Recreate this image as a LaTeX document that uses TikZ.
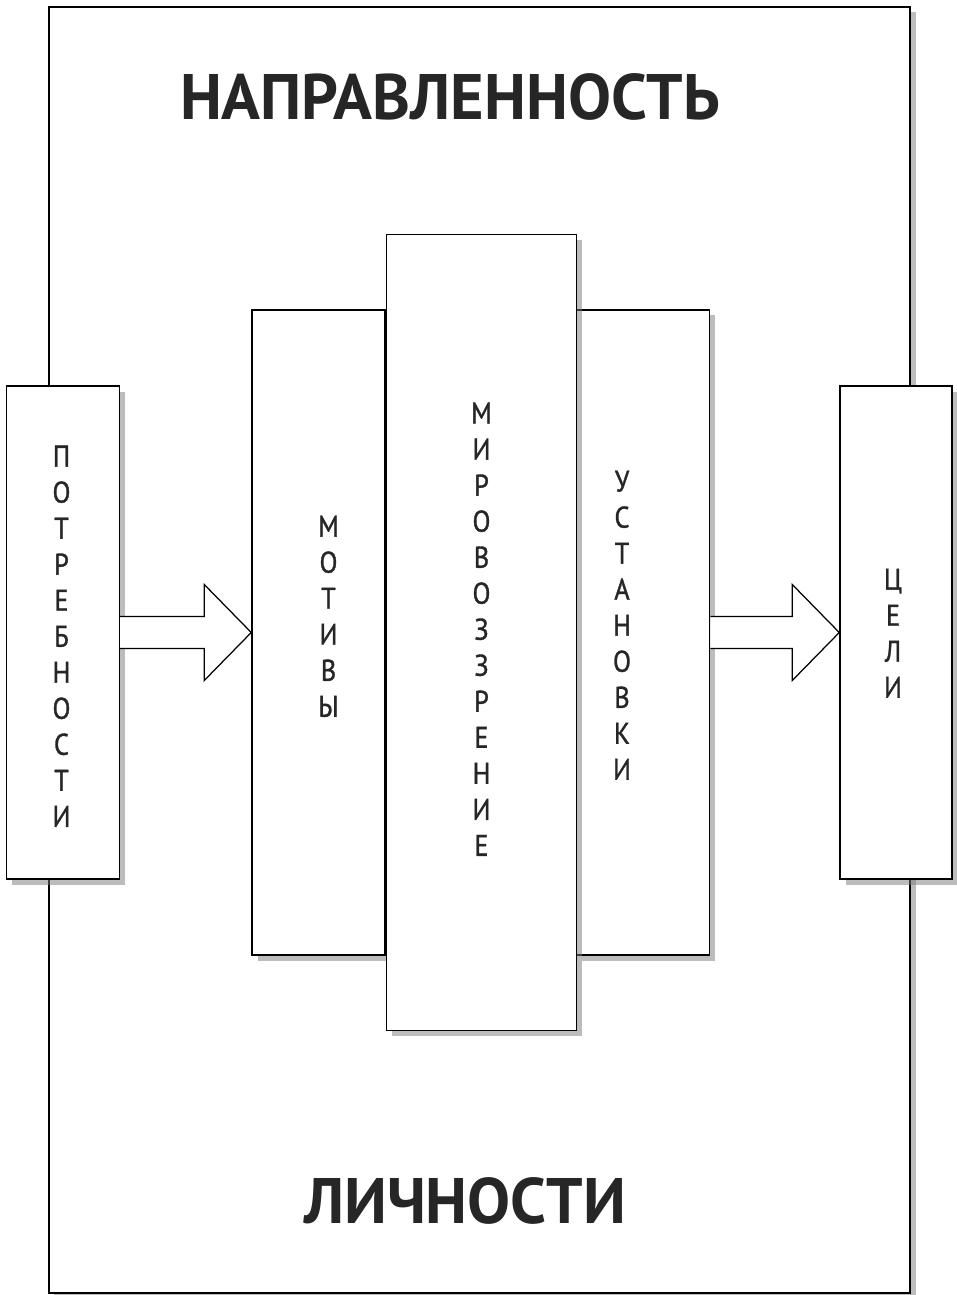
\documentclass[tikz,border=0pt]{standalone}
\usepackage{fontspec}
\setmainfont{PT Sans}
\newfontfamily\letterface[FakeBold=1.2]{PT Sans}
\usetikzlibrary{positioning,calc,shadows}
\definecolor{ink}{HTML}{262626}
\definecolor{shade}{HTML}{7A7A7A}
\newcommand\letterfont{\letterface\fontsize{17}{20.5}\selectfont}
\newcommand\vletters[1]{\scalebox{0.88}[1]{\begin{tabular}{@{}c@{}}#1\end{tabular}}}
\newcommand\widearrow[2]{%
  \draw[hollowarrow] ($(#1.east)+(0,-16)$) -- ($(#2.west)+(-47,-16)$)
    -- ($(#2.west)+(-47,-48)$) -- (#2.west) -- ($(#2.west)+(-47,48)$)
    -- ($(#2.west)+(-47,16)$) -- ($(#1.east)+(0,16)$);}
\tikzset{
  framebox/.style={draw=black,line width=0.3mm,fill=white,inner sep=0pt,
    drop shadow={shadow xshift=1.1mm,shadow yshift=-1.1mm,fill=shade}},
  colbox/.style={framebox,font=\letterfont,text=ink},
  every label/.style={font=\letterfont,text=ink,inner sep=0pt},
  heading/.style={font=\fontsize{36.6}{40}\selectfont\bfseries,text=ink,inner sep=0pt},
  hollowarrow/.style={draw=black,line width=0.25mm,fill=white}
}

\begin{document}
\begin{tikzpicture}[x=0.2mm,y=-0.2mm]
  \useasboundingbox (0,0) rectangle (957,1295);
  \node[framebox,minimum width=172.2mm,minimum height=257.2mm] (frame) at (479.5,650) {};
  \node[heading] (title) at (450,97) {НАПРАВЛЕННОСТЬ};
  \node[heading] (subtitle) at (465,1201) {ЛИЧНОСТИ};
  % central columns
  \node[colbox,minimum width=26.6mm,minimum height=129mm,
    label={[xshift=2mm,yshift=2.6mm]center:\vletters{М\\О\\Т\\И\\В\\Ы}}]
    (motives) at (318.5,632.5) {};
  \node[colbox,minimum width=26.6mm,minimum height=129mm,right=38mm of motives,
    label={[xshift=-4.2mm,yshift=0.8mm]center:\vletters{У\\С\\Т\\А\\Н\\О\\В\\К\\И}}]
    (attitudes) {};
  \node[colbox,minimum width=38mm,minimum height=159.2mm,right=0pt of motives] (worldview)
    {\vletters{М\\И\\Р\\О\\В\\О\\З\\З\\Р\\Е\\Н\\И\\Е}};
  % side boxes
  \node[colbox,minimum width=22.6mm,minimum height=98.6mm,left=26.2mm of motives,
    label={[xshift=-0.3mm,yshift=-1.4mm]center:\vletters{П\\О\\Т\\Р\\Е\\Б\\Н\\О\\С\\Т\\И}}]
    (needs) {};
  \node[colbox,minimum width=22.4mm,minimum height=98.6mm,right=25.8mm of attitudes,
    label={[xshift=-0.6mm,yshift=-0.8mm]center:\vletters{Ц\\Е\\Л\\И}}]
    (goals) {};
  \widearrow{needs}{motives}
  \widearrow{attitudes}{goals}
\end{tikzpicture}
\end{document}
